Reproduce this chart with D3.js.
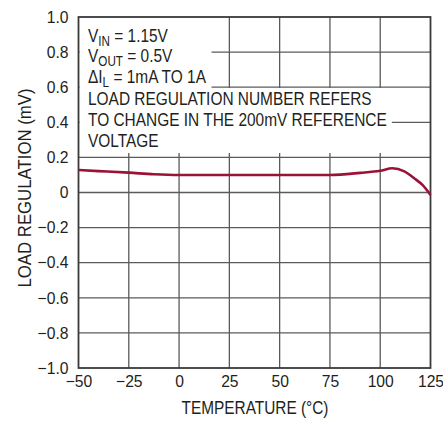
<!DOCTYPE html>
<html><head><meta charset="utf-8">
<script src="https://cdn.jsdelivr.net/npm/d3@7"></script>
<style>
html,body{margin:0;padding:0;background:#fff;}
svg text{font-family:"Liberation Sans",Arial,sans-serif;fill:#231f20;}
</style></head>
<body><svg id="c" width="443" height="422"></svg>
<script>
const temps = [-50, -40, -25, -12.5, 0, 25, 50, 75, 90, 100, 106, 112, 117, 121, 125];
const loadReg = [0.128, 0.122, 0.113, 0.104, 0.10, 0.10, 0.10, 0.10, 0.112, 0.124, 0.138, 0.12, 0.08, 0.043, -0.014];
const xTicks = [-50, -25, 0, 25, 50, 75, 100, 125];
const yTicks = [-1.0, -0.8, -0.6, -0.4, -0.2, 0, 0.2, 0.4, 0.6, 0.8, 1.0];
const noteLines = [
  [["V",""],["IN","sub"],[" = 1.15V",""]],
  [["V",""],["OUT","sub"],[" = 0.5V",""]],
  [["\u0394I",""],["L","sub"],[" = 1mA TO 1A",""]],
  [["LOAD REGULATION NUMBER REFERS",""]],
  [["TO CHANGE IN THE 200mV REFERENCE",""]],
  [["VOLTAGE",""]]
];

const svg = d3.select("#c");
const m = {l:78.5, r:430.5, t:17, b:368};
const x = d3.scaleLinear().domain([-50,125]).range([m.l, m.r]);
const y = d3.scaleLinear().domain([-1,1]).range([m.b, m.t]);
const gridCol = "#5a5a5a";
const cond = 0.835;

// grid
const g = svg.append("g");
g.selectAll("line.v").data(xTicks.slice(1,-1)).join("line")
  .attr("x1", d=>x(d)).attr("x2", d=>x(d)).attr("y1", m.t).attr("y2", m.b)
  .attr("stroke", gridCol).attr("stroke-width", 1.3);
g.selectAll("line.h").data(yTicks.slice(1,-1)).join("line")
  .attr("y1", d=>y(d)).attr("y2", d=>y(d)).attr("x1", m.l).attr("x2", m.r)
  .attr("stroke", gridCol).attr("stroke-width", 1.3);

// annotation with white background (condensed horizontally)
const noteX = 88;
const bg = svg.append("g");
const note = svg.append("g").attr("transform", `translate(${noteX},0) scale(${cond},1) translate(${-noteX},0)`);
const noteBase = [42, 62.5, 83.5, 105, 126, 147];
noteLines.forEach((parts, i) => {
  const t = note.append("text").attr("x", noteX).attr("y", noteBase[i]).attr("font-size", 18.5);
  let sub = false;
  parts.forEach(([s, k]) => {
    if (k === "sub") {
      t.append("tspan").attr("font-size", 14).attr("dy", 4).text(s);
      sub = true;
    } else {
      const ts = t.append("tspan").text(s);
      if (sub) { ts.attr("dy", -4); sub = false; }
    }
  });
});
const rights = note.selectAll("text").nodes().map(n => {
  const b = n.getBBox();
  return noteX + (b.x + b.width - noteX) * cond;
});
const rA = d3.max(rights.slice(0,3)) + 5, rB = d3.max(rights.slice(3)) + 5;
bg.append("rect").attr("x", m.l + 1).attr("y", m.t).attr("width", rA - m.l - 1).attr("height", 88 - m.t).attr("fill", "#fff");
bg.append("rect").attr("x", m.l + 1).attr("y", 88).attr("width", rB - m.l - 1).attr("height", 153 - 88).attr("fill", "#fff");

// frame
svg.append("rect").attr("x", m.l).attr("y", m.t).attr("width", m.r - m.l).attr("height", m.b - m.t)
  .attr("fill", "none").attr("stroke", "#3a3a3a").attr("stroke-width", 1.8);

// curve
const line = d3.line().x((d,i)=>x(temps[i])).y(d=>y(d)).curve(d3.curveMonotoneX);
svg.append("path").datum(loadReg).attr("d", line).attr("fill", "none")
  .attr("stroke", "#9b1237").attr("stroke-width", 2.6);

function condense(sel, f) {
  sel.each(function() {
    const L = this.getComputedTextLength();
    d3.select(this).attr("textLength", L * f).attr("lengthAdjust", "spacingAndGlyphs");
  });
}

// axes labels
const xa = svg.append("g").attr("transform", `translate(0,${m.b})`)
  .call(d3.axisBottom(x).tickValues(xTicks).tickSize(0).tickPadding(7).tickFormat(d3.format("")));
xa.select(".domain").remove();
xa.attr("font-family", null).attr("font-size", null);
xa.selectAll("text").attr("font-size", 16.5).attr("fill", "#231f20");
condense(xa.selectAll("text"), 0.95);
const ya = svg.append("g").attr("transform", `translate(${m.l},0)`)
  .call(d3.axisLeft(y).tickValues(yTicks).tickSize(0).tickPadding(10)
    .tickFormat(d => d === 0 ? "0" : d3.format(".1f")(d)));
ya.select(".domain").remove();
ya.attr("font-family", null).attr("font-size", null);
ya.selectAll("text").attr("font-size", 16.5).attr("fill", "#231f20");
condense(ya.selectAll("text"), 0.95);

const xt = svg.append("text").attr("x", 255).attr("y", 414).attr("text-anchor", "middle")
  .attr("font-size", 18).text("TEMPERATURE (\u00B0C)");
xt.attr("textLength", 147).attr("lengthAdjust", "spacingAndGlyphs");
const yt = svg.append("text").attr("transform", "translate(31,188) rotate(-90)").attr("text-anchor", "middle")
  .attr("font-size", 18).text("LOAD REGULATION (mV)");
yt.attr("textLength", 199).attr("lengthAdjust", "spacingAndGlyphs");
</script></body></html>
